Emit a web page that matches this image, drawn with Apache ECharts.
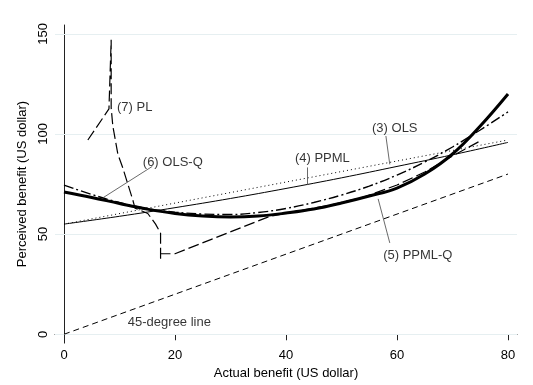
<!DOCTYPE html>
<html>
<head>
<meta charset="utf-8">
<script src="https://cdn.jsdelivr.net/npm/echarts@6/dist/echarts.min.js"></script>
<style>
  html, body { margin: 0; padding: 0; background: #fff; }
  #chart { width: 533px; height: 385px; }
</style>
</head>
<body>
<div id="chart"></div>
<script>
// tick labels
const xTicks = [0, 20, 40, 60, 80]
const yTicks = [0, 50, 100, 150]

// fitted lines, [actual, perceived]
const diag45 = [[0, 0], [80, 80]]
const ols = [[0, 55], [80, 97]]
const ppml = [[0, 55], [10, 58.9], [20, 63.2], [30, 67.8], [40, 72.8], [50, 78.1], [60, 83.8], [70, 89.6], [80, 95.8]]
const ppmlQ = [[0, 71], [5, 68.3], [10, 65.3], [15, 62.5], [20, 60.3], [25, 59], [30, 58.5], [35, 59], [40, 60.5],
  [45, 62.5], [50, 65.5], [55, 69], [60, 73], [65, 80], [70, 90], [75, 104], [80, 120]]
const olsQ = [[0, 74.5], [5, 69.8], [10, 65.8], [15, 62.8], [20, 61], [25, 60], [30, 59.8], [35, 60.8], [40, 62.8],
  [45, 65.8], [50, 69.5], [55, 74], [60, 79.5], [65, 86], [70, 93.5], [75, 102], [80, 111]]
const pl = [[4.3, 97], [8.1, 112.5], [8.5, 147], [8.5, 113], [8.8, 104], [9.7, 90], [10.6, 83], [11.5, 75], [12.4, 67],
  [12.8, 63], [15.1, 60.3], [16.5, 55], [17.4, 50.5], [17.4, 37.7], [17.4, 40.2], [20, 40.2], [37, 58.8],
  [42, 61.5], [48, 64.5], [54, 68.5], [60, 74.5], [65, 81], [70, 89], [75.3, 97]]

// annotations
const labelNames = ['(7) PL', '(6) OLS-Q', '(4) PPML', '(3) OLS', '(5) PPML-Q', '45-degree line']
const labelPos = [[9.55, 114.7], [14.2, 87.3], [41.6, 89.2], [55.5, 104.4], [57.5, 40.7], [11.5, 7.4]]
const leaders = [
  [[15.9, 83.8], [7.0, 68.1]],
  [[43.8, 83.3], [43.8, 74.5]],
  [[58.0, 99.0], [58.7, 84.8]],
  [[58.7, 45.6], [56.6, 67.6]]
]

const FONT = '"Liberation Sans", Arial, sans-serif'
const INK = '#000'

const chart = echarts.init(document.getElementById('chart'), null, { renderer: 'canvas' })

function lineSeries(name, data, width, type, smooth) {
  return {
    name: name,
    type: 'line',
    data: data,
    smooth: smooth ? 0.4 : false,
    symbol: 'none',
    z: 3,
    lineStyle: { color: '#000', width: width, type: type, cap: 'butt' }
  }
}

chart.setOption({
  animation: false,
  backgroundColor: '#fff',
  grid: { left: 55, right: 16, top: 25, bottom: 36 },
  xAxis: {
    type: 'value',
    min: -1.62,
    max: 81.62,
    name: 'Actual benefit (US dollar)',
    nameLocation: 'middle',
    nameGap: 23,
    nameTextStyle: { color: INK, fontSize: 13, fontFamily: FONT },
    axisLine: { show: true, lineStyle: { color: '#222', width: 1 } },
    axisTick: { show: true, length: 6, customValues: xTicks, lineStyle: { color: '#222' } },
    axisLabel: { customValues: xTicks, color: INK, fontSize: 13, fontFamily: FONT, margin: 6 },
    splitLine: { show: false }
  },
  yAxis: {
    type: 'value',
    min: -4.41,
    max: 154.41,
    name: 'Perceived benefit (US dollar)',
    nameLocation: 'middle',
    nameGap: 18,
    nameTextStyle: { color: INK, fontSize: 13, fontFamily: FONT },
    axisLine: { show: true, lineStyle: { color: '#222', width: 1 } },
    axisTick: { show: true, length: 8, customValues: yTicks, lineStyle: { color: '#222' } },
    axisLabel: { customValues: yTicks, rotate: 90, color: INK, fontSize: 13, fontFamily: FONT, margin: 5 },
    splitLine: { show: false }
  },
  series: [
    {
      type: 'line',
      data: [],
      silent: true,
      markLine: {
        silent: true,
        symbol: 'none',
        z: 1,
        label: { show: false },
        lineStyle: { color: '#e6eff1', type: 'solid', width: 1 },
        data: yTicks.map(v => ({ yAxis: v }))
      }
    },
    lineSeries('45-degree line', diag45, 1, [6, 4], false),
    lineSeries('(3) OLS', ols, 1, [1, 3], false),
    lineSeries('(4) PPML', ppml, 1, 'solid', true),
    lineSeries('(5) PPML-Q', ppmlQ, 3, 'solid', true),
    lineSeries('(6) OLS-Q', olsQ, 1.4, [10, 3, 2, 3], true),
    lineSeries('(7) PL', pl, 1.2, [11, 4], false),
    {
      type: 'lines',
      coordinateSystem: 'cartesian2d',
      z: 4,
      lineStyle: { color: '#444', width: 0.8, opacity: 1 },
      data: leaders.map(c => ({ coords: c }))
    },
    {
      type: 'scatter',
      symbolSize: 0,
      z: 5,
      data: labelNames.map((n, i) => ({ name: n, value: labelPos[i] })),
      label: {
        show: true,
        position: 'right',
        distance: 0,
        offset: [0, 3],
        formatter: '{b}',
        color: INK,
        fontSize: 13,
        fontFamily: FONT
      }
    }
  ]
})
</script>
</body>
</html>
